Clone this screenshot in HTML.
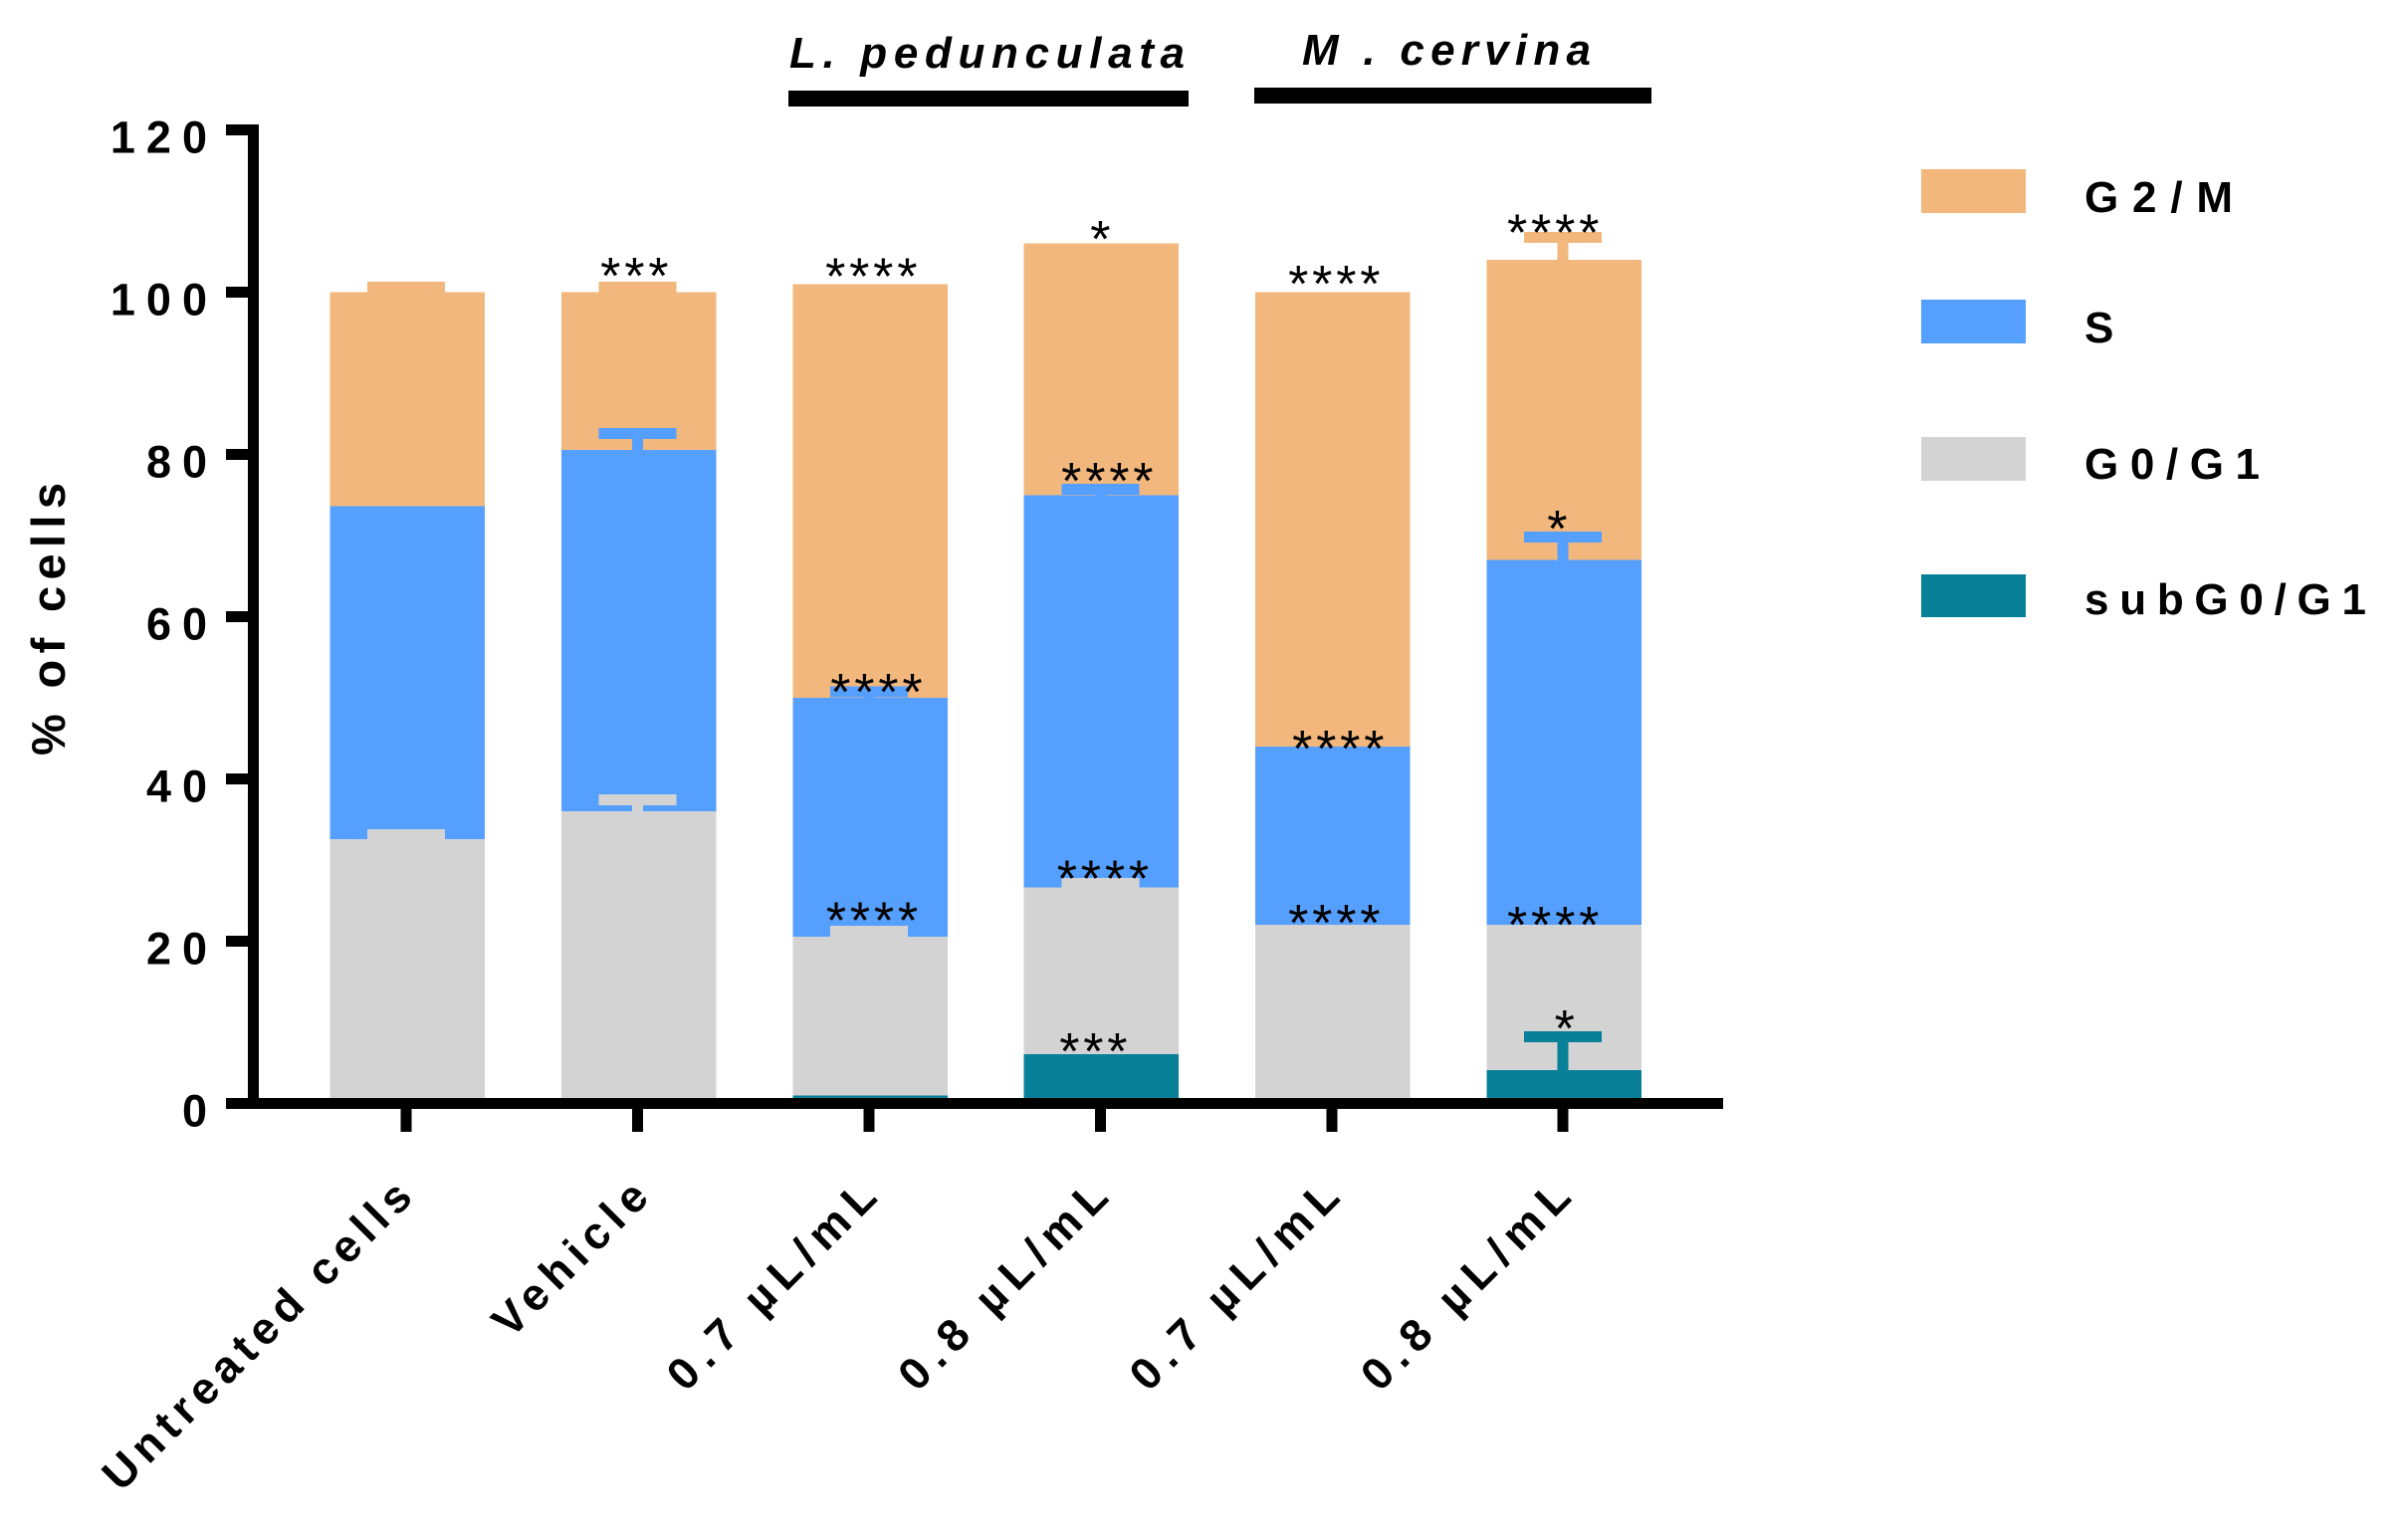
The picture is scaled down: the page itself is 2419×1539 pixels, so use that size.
<!DOCTYPE html>
<html lang="en">
<head>
<meta charset="utf-8">
<title>Cell cycle distribution</title>
<style>
html,body{margin:0;padding:0;background:#fff;}
svg{display:block;}
text{font-family:"Liberation Sans",sans-serif;font-weight:bold;fill:#000;}
</style>
</head>
<body>
<svg id="chart" width="2419" height="1539" viewBox="0 0 2419 1539" xmlns="http://www.w3.org/2000/svg">
  <rect x="0" y="0" width="2419" height="1539" fill="#fff"/>
  <g id="bars" shape-rendering="crispEdges"></g>
  <g id="errors" shape-rendering="crispEdges"></g>
  <g id="axes" shape-rendering="crispEdges"></g>
  <g id="labels"></g>
  <g id="sig"></g>

  <text transform="translate(65,759) rotate(-90)" font-size="47" textLength="274" lengthAdjust="spacing">% of cells</text>

  <text x="793" y="68" font-size="44" font-style="italic" textLength="397" lengthAdjust="spacing">L. pedunculata</text>
  <rect x="792" y="91" width="402" height="16" fill="#000"/>
  <text x="1308" y="65" font-size="44" font-style="italic" textLength="290" lengthAdjust="spacing">M . cervina</text>
  <rect x="1260" y="88" width="399" height="16" fill="#000"/>

  <g id="legend">
    <rect x="1930" y="170" width="105" height="44" fill="#F2B77D"/>
    <text x="2094" y="213" font-size="44" textLength="149" lengthAdjust="spacing">G2/M</text>
    <rect x="1930" y="301" width="105" height="44" fill="#559FFE"/>
    <text x="2094" y="344" font-size="44">S</text>
    <rect x="1930" y="439" width="105" height="44" fill="#D3D3D3"/>
    <text x="2094" y="481" font-size="44" textLength="176" lengthAdjust="spacing">G0/G1</text>
    <rect x="1930" y="577" width="105" height="43" fill="#078098"/>
    <text x="2094" y="617" font-size="44" textLength="283" lengthAdjust="spacing">subG0/G1</text>
  </g>
</svg>
<script>
// Chart data
const categories = ["Untreated cells", "Vehicle", "0.7 µL/mL", "0.8 µL/mL", "0.7 µL/mL", "0.8 µL/mL"];
const subG0G1 = [0, 0, 1, 6.07, 0, 4.1];
const g0G1 = [32.6, 36, 19.55, 20.53, 22, 17.9];
const sPhase = [41.0, 44.55, 29.45, 48.4, 22, 45];
const g2M = [26.4, 19.45, 51, 31, 56, 37];
const subG0G1Err = [0, 0, 0, 0, 0, 4.8];
const g0G1Err = [1.2, 2.1, 1.35, 1.2, 0, 0];
const sPhaseErr = [0, 2.7, 1.4, 1.4, 0, 3.5];
const g2MErr = [1.3, 1.3, 0, 0, 0, 3.4];
const yTicks = [0, 20, 40, 60, 80, 100, 120];
const sigText = ["***", "****", "****", "****", "*", "****", "****", "***", "****", "****", "****", "****", "*", "****", "*"];
const sigCategory = [0.979, 2.003, 2.025, 2.006, 2.993, 3.023, 3.004, 2.963, 4.004, 4.021, 4.004, 4.95, 4.968, 4.95, 5.0];
const sigValue = [102.3, 102.2, 51.0, 22.8, 106.8, 77.0, 28.0, 6.7, 101.3, 44.0, 22.5, 107.6, 71.1, 22.3, 9.5];
const xLabelLengthEm = [9.48, 4.52, 6.25, 6.25, 6.25, 6.25];

// Axis functions
const NS = "http://www.w3.org/2000/svg";
function yScale(v) { return 1108.5 - v * 8.15; }
function xScale(c) { return 409.2 + c * 232.4; }
const BAR_W = 155.5, CAP_W = 78, CAP_H = 11, STEM_W = 11;
function make(tag, attrs, parent) {
  const el = document.createElementNS(NS, tag);
  for (const k in attrs) el.setAttribute(k, attrs[k]);
  parent.appendChild(el);
  return el;
}

const stack = [
  { key: "subg0g1", values: subG0G1, errs: subG0G1Err, color: "#078098" },
  { key: "g0g1", values: g0G1, errs: g0G1Err, color: "#D3D3D3" },
  { key: "s", values: sPhase, errs: sPhaseErr, color: "#559FFE" },
  { key: "g2m", values: g2M, errs: g2MErr, color: "#F2B77D" }
];

const barsG = document.getElementById("bars");
const errG = document.getElementById("errors");
categories.forEach(function (cat, i) {
  let base = 0;
  stack.forEach(function (s) {
    const top = base + s.values[i];
    if (s.values[i] > 0) {
      const bar = make("rect", { x: xScale(i) - BAR_W / 2, y: yScale(top), width: BAR_W, height: yScale(base) - yScale(top), fill: s.color }, barsG);
      
      
    }
    if (s.errs[i] > 0) {
      const cap = make("rect", { x: xScale(i) - CAP_W / 2 - 1, y: yScale(top + s.errs[i]), width: CAP_W, height: CAP_H, fill: s.color }, errG);
      
      
      const stem = make("rect", { x: xScale(i) - STEM_W / 2 - 1, y: yScale(top + s.errs[i]), width: STEM_W, height: yScale(top) - yScale(top + s.errs[i]), fill: s.color }, errG);
      
      
    }
    base = top;
  });
});

// Axes
const axesG = document.getElementById("axes");
const labelsG = document.getElementById("labels");
const yLine = make("rect", { x: 249, y: yScale(120) - 5.5, width: 11, height: yScale(0) - yScale(120) + 11, fill: "#000" }, axesG);


const xLine = make("rect", { x: 227, y: yScale(0) - 5.5, width: 1504, height: 11, fill: "#000" }, axesG);



yTicks.forEach(function (t) {
  const tick = make("rect", { x: 227, y: yScale(t) - 5.5, width: 33, height: 11, fill: "#000" }, axesG);
  
  
  const lab = make("text", { x: 219, y: yScale(t) + 23, "font-size": 45, "text-anchor": "end", "letter-spacing": 11 }, labelsG);
  lab.textContent = String(t);
  
  
});

categories.forEach(function (cat, i) {
  const tick = make("rect", { x: xScale(i) - 6.5, y: yScale(0) + 5.5, width: 11, height: 23, fill: "#000" }, axesG);
  
  
  const ex = xScale(i) + (i === 1 ? 12 : (i === 0 ? 7 : 9));
  const lab = make("text", { transform: "translate(" + ex + ",1205) rotate(-45)", "font-size": 45, "text-anchor": "end", textLength: Math.round(xLabelLengthEm[i] * 44), lengthAdjust: "spacing" }, labelsG);
  lab.textContent = cat;
  
  
});

// Significance marks
const sigG = document.getElementById("sig");
sigText.forEach(function (txt, i) {
  const m = make("text", { x: xScale(sigCategory[i]) + 2.5, y: yScale(sigValue[i]) + 20, "font-size": 52, "text-anchor": "middle", "letter-spacing": 3.8 }, sigG);
  m.style.fontWeight = "normal";
  m.textContent = txt;
  
  
});
</script>
</body>
</html>
